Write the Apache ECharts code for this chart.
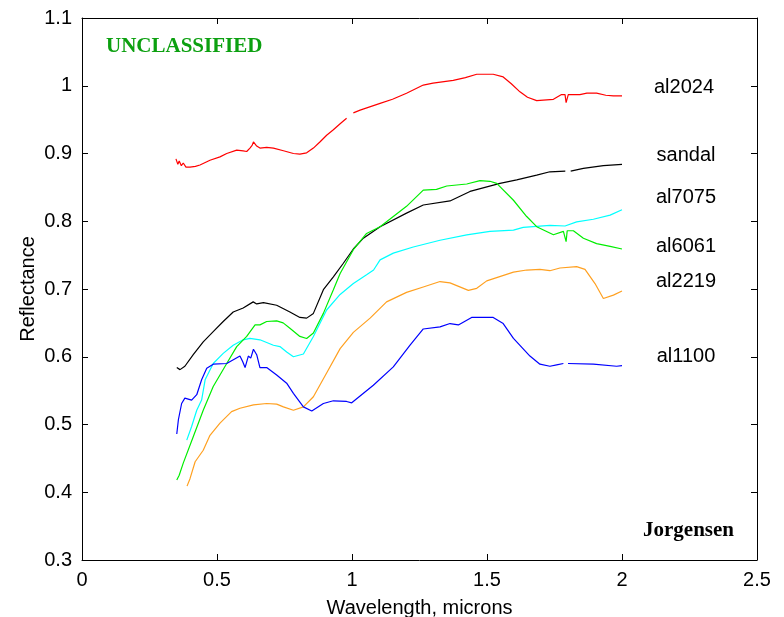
<!DOCTYPE html>
<html>
<head>
<meta charset="utf-8">
<script src="https://cdn.jsdelivr.net/npm/echarts@6/dist/echarts.min.js"></script>
<style>
html,body{margin:0;padding:0;background:#fff;}
#chart{width:784px;height:617px;}
</style>
</head>
<body>
<div id="chart"></div>
<script>
// ---- data ----
var xTicks = [0, 0.5, 1, 1.5, 2, 2.5];
var yTicks = [0.3, 0.4, 0.5, 0.6, 0.7, 0.8, 0.9, 1, 1.1];
var seriesNames = ['al2024', 'sandal', 'al7075', 'al6061', 'al2219', 'al1100'];

var al2024X = [0.348,0.355,0.360,0.368,0.375,0.385,0.400,0.420,0.437,0.474,0.511,0.536,0.573,0.597,0.610,0.622,0.630,0.635,0.647,0.659,0.684,0.709,0.746,0.783,0.807,0.832,0.857,0.881,0.906,0.931,0.956,0.980,0.995,1.005,1.030,1.104,1.150,1.202,1.264,1.300,1.375,1.420,1.462,1.523,1.560,1.590,1.622,1.650,1.684,1.746,1.776,1.789,1.793,1.801,1.844,1.870,1.906,1.940,1.968,2.000];
var al2024Y = [0.892,0.884,0.889,0.882,0.886,0.880,0.880,0.881,0.883,0.890,0.895,0.900,0.905,0.904,0.903,0.908,0.912,0.917,0.911,0.908,0.909,0.908,0.904,0.900,0.899,0.901,0.908,0.917,0.927,0.935,0.944,0.952,null,0.960,0.964,0.974,0.980,0.989,1.001,1.004,1.008,1.012,1.017,1.017,1.013,1.003,0.991,0.983,0.978,0.980,0.987,0.987,0.975,0.987,0.987,0.989,0.989,0.986,0.985,0.985];

var sandalX = [0.351,0.363,0.381,0.412,0.449,0.486,0.523,0.560,0.597,0.634,0.647,0.672,0.721,0.770,0.807,0.832,0.857,0.894,0.931,0.968,1.005,1.042,1.104,1.202,1.264,1.363,1.437,1.548,1.610,1.684,1.733,1.790,1.800,1.810,1.857,1.931,2.000];
var sandalY = [0.584,0.581,0.586,0.603,0.622,0.637,0.652,0.666,0.672,0.681,0.678,0.680,0.676,0.666,0.658,0.657,0.664,0.699,0.718,0.738,0.759,0.775,0.792,0.812,0.824,0.830,0.844,0.856,0.861,0.868,0.873,0.874,null,0.874,0.878,0.882,0.884];

var al7075X = [0.388,0.406,0.425,0.443,0.456,0.486,0.523,0.560,0.597,0.622,0.659,0.709,0.733,0.758,0.783,0.820,0.857,0.906,0.956,1.005,1.054,1.080,1.104,1.153,1.227,1.326,1.425,1.511,1.598,1.634,1.733,1.789,1.832,1.894,1.956,2.000];
var al7075Y = [0.477,0.497,0.521,0.536,0.566,0.590,0.605,0.617,0.625,0.627,0.625,0.617,0.615,0.607,0.600,0.604,0.630,0.669,0.692,0.708,0.721,0.728,0.743,0.753,0.762,0.772,0.780,0.785,0.787,0.791,0.794,0.793,0.799,0.803,0.809,0.817];

var al6061X = [0.351,0.360,0.375,0.412,0.449,0.486,0.536,0.573,0.610,0.641,0.659,0.684,0.721,0.745,0.770,0.807,0.832,0.857,0.894,0.931,0.956,1.005,1.054,1.104,1.202,1.264,1.313,1.351,1.425,1.474,1.511,1.536,1.598,1.647,1.684,1.746,1.783,1.790,1.793,1.797,1.820,1.857,1.906,1.956,2.000];
var al6061Y = [0.418,0.425,0.443,0.482,0.521,0.556,0.590,0.615,0.630,0.647,0.647,0.652,0.653,0.650,0.642,0.630,0.627,0.635,0.664,0.699,0.723,0.758,0.782,0.792,0.822,0.846,0.847,0.852,0.855,0.860,0.859,0.856,0.831,0.807,0.792,0.780,0.785,0.785,0.770,0.786,0.786,0.775,0.767,0.763,0.759];

var al2219X = [0.389,0.400,0.419,0.449,0.474,0.511,0.554,0.585,0.635,0.684,0.721,0.746,0.783,0.820,0.857,0.906,0.956,1.005,1.067,1.128,1.202,1.264,1.326,1.363,1.431,1.462,1.499,1.598,1.647,1.696,1.733,1.770,1.832,1.863,1.900,1.931,1.968,2.000];
var al2219Y = [0.409,0.420,0.445,0.462,0.484,0.502,0.519,0.524,0.529,0.531,0.530,0.526,0.521,0.526,0.541,0.576,0.612,0.636,0.657,0.681,0.695,0.703,0.711,0.709,0.698,0.701,0.712,0.725,0.728,0.729,0.727,0.731,0.733,0.729,0.708,0.686,0.691,0.697];

var al1100X = [0.351,0.357,0.369,0.381,0.406,0.425,0.443,0.462,0.486,0.536,0.585,0.595,0.604,0.616,0.625,0.635,0.647,0.659,0.684,0.721,0.758,0.783,0.820,0.851,0.894,0.931,0.980,0.999,1.079,1.153,1.215,1.264,1.326,1.363,1.394,1.443,1.523,1.560,1.598,1.659,1.696,1.733,1.758,1.783,1.790,1.800,1.894,1.980,2.000];
var al1100Y = [0.486,0.507,0.531,0.539,0.536,0.544,0.566,0.583,0.589,0.590,0.601,0.593,0.584,0.601,0.598,0.611,0.603,0.584,0.584,0.573,0.561,0.546,0.526,0.520,0.531,0.535,0.534,0.532,0.558,0.585,0.617,0.641,0.644,0.649,0.647,0.658,0.658,0.649,0.627,0.601,0.589,0.586,0.588,0.590,null,0.590,0.589,0.586,0.587];

// ---- build ----
function pairs(xs, ys) {
  var out = [];
  for (var i = 0; i < xs.length; i++) out.push([xs[i], ys[i]]);
  return out;
}
var seriesData = [
  pairs(al2024X, al2024Y),
  pairs(sandalX, sandalY),
  pairs(al7075X, al7075Y),
  pairs(al6061X, al6061Y),
  pairs(al2219X, al2219Y),
  pairs(al1100X, al1100Y)
];
var colors = ['#ff0000', '#000000', '#00ffff', '#00ee00', '#ffa020', '#0000ff'];

var sans = 'Liberation Sans, Arial, sans-serif';
var serif = 'Liberation Serif, Times New Roman, serif';

var chart = echarts.init(document.getElementById('chart'), null, {renderer: 'canvas'});

var xMin = xTicks[0], xMax = xTicks[xTicks.length - 1], xInt = xTicks[1] - xTicks[0];
var yMin = yTicks[0], yMax = yTicks[yTicks.length - 1];

function axisCommon(showLabel) {
  return {
    axisLine: {show: true, onZero: false, lineStyle: {color: '#000', width: 1}},
    axisTick: {show: true, inside: true, length: 6, lineStyle: {color: '#000', width: 1}},
    splitLine: {show: false},
    axisLabel: {show: showLabel, color: '#000', fontSize: 20, fontFamily: sans}
  };
}

var xBottom = Object.assign(axisCommon(true), {
  type: 'value', position: 'bottom', min: xMin, max: xMax, interval: xInt,
  name: 'Wavelength, microns', nameLocation: 'middle', nameGap: 38, nameMoveOverlap: false,
  nameTextStyle: {color: '#000', fontSize: 20, fontFamily: sans}
});
xBottom.axisLabel.margin = 10;
var xTop = Object.assign(axisCommon(false), {
  type: 'value', position: 'top', min: xMin, max: xMax, interval: xInt
});
var yLeft = Object.assign(axisCommon(true), {
  type: 'value', position: 'left', min: yMin, max: yMax, interval: 0.1,
  name: 'Reflectance', nameLocation: 'middle', nameGap: 44, nameRotate: 90, nameMoveOverlap: false,
  nameTextStyle: {color: '#000', fontSize: 20, fontFamily: sans}
});
yLeft.axisLabel.margin = 10;
yLeft.axisLabel.formatter = function (v) { return String(Math.round(v * 10) / 10); };
var yRight = Object.assign(axisCommon(false), {
  type: 'value', position: 'right', min: yMin, max: yMax, interval: 0.1
});

var series = seriesNames.map(function (n, i) {
  return {
    name: n, type: 'line', xAxisIndex: 0, yAxisIndex: 0,
    data: seriesData[i], showSymbol: false, symbol: 'none',
    connectNulls: false, smooth: false,
    lineStyle: {color: colors[i], width: 1.2},
    itemStyle: {color: colors[i]},
    silent: true
  };
});

var labelPix = [[684, 87], [686, 155], [686, 197], [686, 246], [686, 281], [686, 356]];
var graphics = seriesNames.map(function (n, i) {
  return {
    type: 'text', x: labelPix[i][0], y: labelPix[i][1],
    style: {text: n, fill: '#000', font: '20px ' + sans, align: 'center', verticalAlign: 'middle'}
  };
});
graphics.push({
  type: 'text', x: 106, y: 47,
  style: {text: 'UNCLASSIFIED', fill: '#0ca010', font: 'bold 21px ' + serif, align: 'left', verticalAlign: 'middle'}
});
graphics.push({
  type: 'text', x: 734, y: 531,
  style: {text: 'Jorgensen', fill: '#000', font: 'bold 21px ' + serif, align: 'right', verticalAlign: 'middle'}
});

chart.setOption({
  animation: false,
  backgroundColor: '#fff',
  grid: {left: 82, right: 27, top: 18, bottom: 57, containLabel: false, outerBoundsMode: 'none'},
  xAxis: [xBottom, xTop],
  yAxis: [yLeft, yRight],
  series: series,
  graphic: graphics
});
</script>
</body>
</html>
